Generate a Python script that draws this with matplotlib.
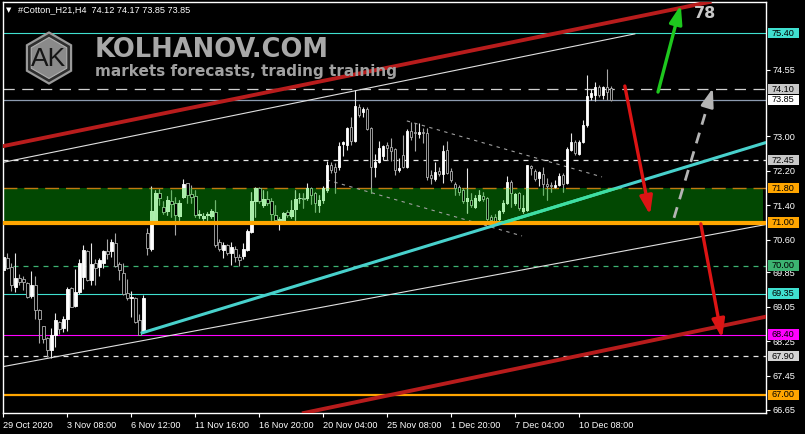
import numpy as np
import matplotlib
matplotlib.use("Agg")
import matplotlib.pyplot as plt
from matplotlib.patches import Rectangle, Polygon

plt.rcParams['font.family'] = ['Liberation Sans', 'DejaVu Sans']

# H4 candles, #Cotton_H21
opens = [69.90, 70.17, 69.98, 69.51, 69.72, 69.68, 69.59, 69.30, 69.55, 68.97,
         68.60, 68.32, 68.05, 68.40, 68.70, 68.56, 68.76, 69.47, 69.07, 69.38,
         69.73, 70.34, 69.67, 70.06, 69.98, 70.06, 70.34, 70.33, 70.52, 70.03,
         69.82, 69.36, 69.24, 69.26, 68.74, 68.49, 70.75, 70.39, 71.06, 71.68,
         71.37, 71.27, 71.51, 71.46, 71.15, 71.60, 71.91, 71.66, 71.62, 71.17,
         71.10, 71.17, 71.16, 71.25, 70.54, 70.36, 70.48, 70.29, 70.38, 70.21,
         70.23, 70.36, 70.79, 71.49, 71.80, 71.41, 71.54, 71.49, 71.18, 71.05,
         71.06, 71.25, 71.15, 71.31, 71.56, 71.56, 71.56, 71.80, 71.68, 71.41,
         71.53, 71.76, 72.34, 72.28, 72.28, 72.82, 72.80, 73.23, 72.89, 73.69,
         73.57, 73.63, 73.19, 72.28, 72.40, 72.55, 72.80, 72.75, 72.70, 72.21,
         72.57, 72.28, 73.13, 73.11, 73.05, 73.10, 73.07, 72.11, 72.01, 72.20,
         72.12, 72.69, 72.20, 71.90, 71.83, 71.76, 71.49, 71.52, 71.37, 71.53,
         71.62, 71.56, 71.12, 71.12, 71.08, 71.26, 71.45, 71.95, 71.45, 71.68,
         71.26, 71.29, 72.31, 72.20, 72.03, 72.13, 71.90, 71.87, 71.82, 71.87,
         72.11, 71.91, 72.69, 72.88, 72.59, 72.88, 73.27, 73.92, 73.96, 74.15,
         73.96, 74.14, 74.12]
highs = [70.22, 70.29, 70.07, 70.29, 69.81, 69.75, 69.63, 69.88, 69.76, 68.99,
         68.60, 68.35, 68.55, 68.90, 68.72, 68.82, 69.50, 69.51, 69.92, 70.15,
         70.48, 70.37, 70.52, 70.15, 70.17, 70.37, 70.61, 70.61, 70.75, 70.09,
         70.07, 69.69, 69.41, 69.28, 68.88, 69.32, 70.88, 71.85, 71.76, 71.77,
         71.49, 71.62, 71.76, 71.60, 71.52, 72.01, 71.93, 71.87, 71.76, 71.29,
         71.22, 71.25, 71.31, 71.53, 70.61, 70.56, 70.50, 70.56, 70.46, 70.27,
         70.52, 70.85, 71.72, 71.83, 71.83, 71.76, 71.74, 71.58, 71.41, 71.14,
         71.25, 71.29, 71.53, 71.76, 71.68, 71.68, 71.93, 71.82, 71.72, 71.64,
         71.84, 72.43, 72.41, 72.38, 72.88, 72.90, 73.23, 73.46, 74.08, 73.75,
         73.69, 73.69, 73.23, 72.59, 72.89, 72.80, 72.88, 72.96, 72.72, 72.49,
         73.03, 73.17, 73.34, 73.30, 73.32, 73.20, 73.20, 72.22, 72.41, 72.28,
         72.80, 72.90, 72.26, 71.95, 71.87, 71.80, 72.26, 71.68, 71.64, 71.76,
         71.72, 71.59, 71.18, 71.20, 71.29, 71.52, 72.08, 71.99, 71.68, 71.71,
         71.64, 72.34, 72.34, 72.24, 72.20, 72.30, 72.03, 71.95, 71.99, 72.14,
         72.14, 72.75, 73.07, 72.92, 72.92, 73.38, 74.43, 74.09, 74.27, 74.19,
         74.17, 74.56, 74.17]
lows = [69.87, 69.92, 69.42, 69.40, 69.55, 69.44, 69.24, 69.24, 68.76, 68.20,
        68.20, 67.87, 67.85, 68.12, 68.41, 68.45, 68.49, 69.03, 69.03, 69.35,
        69.46, 69.65, 69.55, 69.54, 69.75, 69.94, 70.15, 70.21, 69.98, 69.67,
        69.32, 69.20, 68.80, 68.68, 68.38, 68.43, 70.25, 70.33, 71.06, 71.41,
        71.21, 71.18, 71.14, 70.71, 71.06, 71.56, 71.45, 71.45, 71.14, 71.10,
        71.05, 71.06, 71.10, 70.44, 70.35, 70.17, 70.25, 70.02, 70.09, 69.99,
        70.16, 70.33, 70.75, 71.14, 71.45, 71.37, 71.41, 71.06, 71.02, 70.83,
        71.04, 71.14, 71.10, 71.06, 71.45, 71.33, 71.52, 71.43, 71.25, 71.25,
        71.45, 71.72, 72.16, 71.68, 72.22, 72.55, 72.69, 72.80, 72.86, 73.46,
        73.44, 73.15, 71.68, 72.05, 72.38, 72.45, 72.45, 72.42, 72.11, 72.18,
        72.26, 72.26, 72.92, 72.65, 72.96, 72.84, 71.99, 71.90, 71.97, 72.07,
        71.91, 72.13, 71.95, 71.64, 71.64, 71.45, 71.22, 71.37, 71.33, 71.51,
        71.49, 71.06, 71.02, 71.00, 71.04, 71.22, 71.43, 71.37, 71.41, 71.29,
        71.22, 71.28, 72.11, 71.97, 71.85, 71.64, 71.52, 71.72, 71.80, 71.84,
        71.72, 71.90, 72.65, 72.57, 72.57, 72.84, 73.23, 73.85, 73.83, 73.92,
        73.88, 73.85, 73.83]
closes = [70.19, 69.94, 69.55, 69.71, 69.61, 69.61, 69.27, 69.55, 68.97, 68.76,
          68.29, 68.05, 68.38, 68.74, 68.52, 68.76, 69.46, 69.05, 69.40, 70.06,
          70.37, 69.67, 70.03, 69.94, 70.13, 70.33, 70.26, 70.54, 69.99, 69.89,
          69.34, 69.24, 69.28, 68.70, 68.39, 69.24, 70.40, 71.27, 71.68, 71.56,
          71.25, 71.53, 71.43, 71.18, 71.46, 71.89, 71.63, 71.60, 71.18, 71.19,
          71.15, 71.18, 71.27, 70.48, 70.38, 70.48, 70.29, 70.44, 70.20, 70.13,
          70.39, 70.81, 71.50, 71.80, 71.49, 71.54, 71.46, 71.19, 71.06, 71.09,
          71.22, 71.18, 71.29, 71.54, 71.57, 71.55, 71.80, 71.64, 71.45, 71.53,
          71.80, 72.34, 72.21, 72.18, 72.78, 72.86, 73.20, 72.90, 73.71, 73.50,
          73.64, 73.17, 72.28, 72.41, 72.73, 72.78, 72.74, 72.67, 72.21, 72.26,
          72.28, 73.13, 72.99, 73.07, 73.11, 73.07, 72.05, 72.03, 72.17, 72.12,
          72.66, 72.16, 71.99, 71.80, 71.72, 71.51, 71.56, 71.41, 71.56, 71.64,
          71.54, 71.08, 71.06, 71.04, 71.26, 71.45, 71.95, 71.68, 71.66, 71.33,
          71.33, 72.34, 72.26, 72.01, 72.17, 71.90, 71.84, 71.84, 71.87, 72.08,
          71.90, 72.70, 72.88, 72.61, 72.88, 73.27, 73.94, 74.00, 74.15, 73.96,
          74.15, 74.02, 73.85]

date_ticks = [0, 16, 32, 48, 64, 80, 96, 112, 128, 144]
date_labels = ["29 Oct 2020", "3 Nov 08:00", "6 Nov 12:00", "11 Nov 16:00",
               "16 Nov 20:00", "20 Nov 04:00", "25 Nov 08:00", "1 Dec 20:00",
               "7 Dec 04:00", "10 Dec 08:00"]
price_ticks = [74.55, 73.00, 72.20, 71.40, 70.60, 69.85, 69.05, 68.25, 67.45, 66.65]

# marked levels
levels = [75.40, 74.10, 73.85, 72.45, 71.80, 71.00, 70.00, 69.35, 68.40, 67.90, 67.00]
zone_low, zone_high = 71.00, 71.80

# trend lines, (bar, price) anchor points
red_top = [(-0.8, 72.76), (169.2, 75.98)]
red_bottom = [(76.7, 66.61), (190.4, 68.81)]
white_top = [(-1.0, 72.38), (157.9, 75.38)]
white_bottom = [(-1.0, 67.64), (190.4, 70.95)]
cyan_trend = [(34.7, 68.44), (190.4, 72.85)]
dash_top = [(100.9, 73.36), (149.7, 72.06)]
dash_bottom = [(80.9, 71.99), (129.7, 70.69)]

# forecast arrows (tail, head)
arrow_up_green = [(163.7, 74.03), (169.4, 76.05)]
arrow_down_red1 = [(155.4, 74.17), (161.7, 71.18)]
arrow_up_gray = [(167.7, 71.11), (177.4, 74.12)]
arrow_down_red2 = [(174.4, 70.97), (179.7, 68.32)]
target_text = (175.4, 75.86)

W, H = 805, 434
fig = plt.figure(figsize=(W / 100, H / 100), dpi=100, facecolor='black')
ax = fig.add_axes([2.5 / W, 21 / H, 763.5 / W, 411 / H])
ax.set_facecolor('black')
ax.set_xlim(-0.2, 190.7)
ax.set_ylim(66.58, 76.12)
for s in ax.spines.values():
    s.set_color('white')
    s.set_linewidth(1.0)

# zone
zone = Rectangle((0, zone_low), 0.996, zone_high - zone_low, transform=ax.get_yaxis_transform(),
                 facecolor='#024802', edgecolor='none', zorder=1)
ax.add_patch(zone)

# levels
ax.axhline(75.40, color='#40e0d0', lw=0.8, zorder=2)
ax.axhline(74.10, color='#d0d0d0', lw=0.9, ls=(0, (9, 6)), zorder=2)
ax.axhline(73.85, color='#8c9bb0', lw=0.9, zorder=2)
ax.axhline(72.45, color='#e6e6e6', lw=0.9, ls=(0, (4, 4)), zorder=2)
ax.axhline(71.80, color='#c07a10', lw=1.0, ls=(0, (10, 5)), zorder=2)
ax.axhline(71.00, color='#ffa500', lw=3.0, zorder=6)
ax.axhline(70.00, color='#3cb371', lw=0.9, ls=(0, (4, 4)), zorder=2)
ax.axhline(69.35, color='#40e0d0', lw=0.8, zorder=2)
ax.axhline(68.40, color='#ff00ff', lw=0.8, zorder=2)
ax.axhline(67.90, color='#e6e6e6', lw=0.9, ls=(0, (4, 4)), zorder=2)
ax.axhline(67.00, color='#ffa500', lw=1.6, zorder=2)

# trend lines
ax.axline(red_top[0], red_top[1], color='#b81c1c', lw=2.8, zorder=7)
ax.axline(red_bottom[0], red_bottom[1], color='#b81c1c', lw=2.8, zorder=7)
ax.plot(*zip(*white_top), color='#e0e0e0', lw=0.8, zorder=2)
ax.plot(*zip(*white_bottom), color='#e0e0e0', lw=0.8, zorder=2)
ax.plot(*zip(*dash_top), color='#a0a0a0', lw=0.8, ls=(0, (3, 4)), zorder=2)
ax.plot(*zip(*dash_bottom), color='#a0a0a0', lw=0.8, ls=(0, (3, 4)), zorder=2)
cy = ax.plot(*zip(*cyan_trend), color='#48d1cc', lw=2.2, zorder=7)[0]
cy2 = ax.plot(*zip(*cyan_trend), color='#3ee0a0', lw=2.2, zorder=7)[0]
cy2.set_clip_path(zone)

# candles
o, h, l, c = map(np.array, (opens, highs, lows, closes))
idx = np.arange(len(o))
bull = c >= o
lo = np.minimum(o, c)
hgt = np.maximum(np.abs(c - o), 0.02)


def draw_candles(bull_fill, bull_edge, bear_edge, wick_bull, wick_bear, clip=None):
    arts = [ax.vlines(idx[bull], l[bull], h[bull], colors=wick_bull, lw=0.8, zorder=4),
            ax.vlines(idx[~bull], l[~bull], h[~bull], colors=wick_bear, lw=0.8, zorder=4)]
    b1 = ax.bar(idx[bull], hgt[bull], 0.62, lo[bull], color=bull_fill, edgecolor=bull_edge, lw=0.6, zorder=5)
    b2 = ax.bar(idx[~bull], hgt[~bull], 0.62, lo[~bull], color='black', edgecolor=bear_edge, lw=0.6, zorder=5)
    if clip is not None:
        for a in arts:
            a.set_clip_path(clip)
        for p in list(b1.patches) + list(b2.patches):
            p.set_clip_path(clip)


draw_candles('white', 'white', '#b0b0b0', '#e8e8e8', '#a8a8a8')
draw_candles('#a8eea8', '#a8eea8', '#7cc87c', '#8fd88f', '#6cb86c', clip=zone)

# arrows
def arrow(pts, color, ls='-'):
    (x0, y0), (x1, y1) = pts
    if ls == '-':
        ax.annotate('', xy=(x1, y1), xytext=(x0, y0), annotation_clip=False, zorder=8,
                    arrowprops=dict(arrowstyle='-|>,head_length=1.1,head_width=0.38',
                                    color=color, lw=2.4, shrinkA=0, shrinkB=0))
    else:
        f = 0.88
        xm, ym = x0 + (x1 - x0) * f, y0 + (y1 - y0) * f
        ax.plot([x0, xm], [y0, ym], color=color, lw=2.0, ls=(0, (4, 3)), zorder=8)
        ax.annotate('', xy=(x1, y1), xytext=(xm, ym), annotation_clip=False, zorder=8,
                    arrowprops=dict(arrowstyle='-|>,head_length=1.1,head_width=0.38',
                                    color=color, lw=2.0, shrinkA=0, shrinkB=0))


arrow(arrow_up_green, '#1ec81e')
arrow(arrow_down_red1, '#dc1414')
arrow(arrow_up_gray, '#b4b4b4', ls='--')
arrow(arrow_down_red2, '#dc1414')
ax.text(*target_text, '78', color='#c8c8c8', fontsize=11.5, fontweight='bold',
        ha='center', va='center', family='DejaVu Sans', zorder=8)

# axes ticks
ax.yaxis.tick_right()
ax.set_yticks(price_ticks)
ax.set_yticklabels([f'{v:.2f}' for v in price_ticks])
ax.set_xticks(date_ticks)
ax.set_xticklabels(date_labels, ha='left')
ax.tick_params(colors='white', labelsize=6.6, length=3, width=0.8, direction='out')
ax.tick_params(axis='x', pad=2.5)
ax.tick_params(axis='y', pad=2)

# level labels on the price scale
label_bg = ['#40e0d0', '#c8c8c8', 'white', '#c8c8c8', '#ffa500', '#ffa500',
            '#3cb371', '#40e0d0', '#ff00ff', '#d3d3d3', '#ffa500']
box_h = 10.5 * (76.12 - 66.58) / 411
bt = ax.get_yaxis_transform()
for v, bg in zip(levels, label_bg):
    ax.add_patch(Rectangle((1.0 + 1.5 / 763.5, v - box_h / 2), 31 / 763.5, box_h, transform=bt,
                           facecolor=bg, edgecolor='none', clip_on=False, zorder=9))
    ax.text(1.0 + 17 / 763.5, v, f'{v:.2f}', transform=bt, ha='center', va='center',
            fontsize=6.6, color='black', clip_on=False, zorder=10)

# watermark
def fpt(x, y):
    return (x / W, 1 - y / H)


cx, cyy = 49, 58
ang = np.deg2rad(90 + 60 * np.arange(6))
outer = [fpt(cx + 25.5 * np.cos(a), cyy - 25.5 * np.sin(a)) for a in ang]
inner = [fpt(cx + 20.5 * np.cos(a), cyy - 20.5 * np.sin(a)) for a in ang]
ax.add_patch(Polygon(outer, closed=True, transform=fig.transFigure, facecolor='#2e2e2e',
                     edgecolor='#9a9a9a', lw=1.6, clip_on=False, zorder=7.5))
ax.add_patch(Polygon(inner, closed=True, transform=fig.transFigure, facecolor='#8a8a8a',
                     edgecolor='#b0b0b0', lw=0.8, clip_on=False, zorder=7.5))
ax.text(*fpt(49, 59), 'AK', transform=fig.transFigure, fontsize=19, color='#151515',
        ha='center', va='center', zorder=7.6)
ax.text(*fpt(95, 57), 'KOLHANOV.COM', transform=fig.transFigure, fontsize=18.5, fontweight='bold',
        color='#a8a8a8', ha='left', va='baseline', family='DejaVu Sans', zorder=7.6)
ax.text(*fpt(95, 76), 'markets forecasts, trading training', transform=fig.transFigure, fontsize=11,
        fontweight='bold', color='#a0a0a0', ha='left', va='baseline', family='DejaVu Sans', zorder=7.6)

# header
fig.text(*fpt(6, 10), '\u25bc', color='white', fontsize=5, va='center', family='DejaVu Sans')
fig.text(*fpt(18, 10), '#Cotton_H21,H4  74.12 74.17 73.85 73.85', color='white',
         fontsize=6.6, va='center')

fig.savefig('out.png', dpi=100, facecolor='black')
